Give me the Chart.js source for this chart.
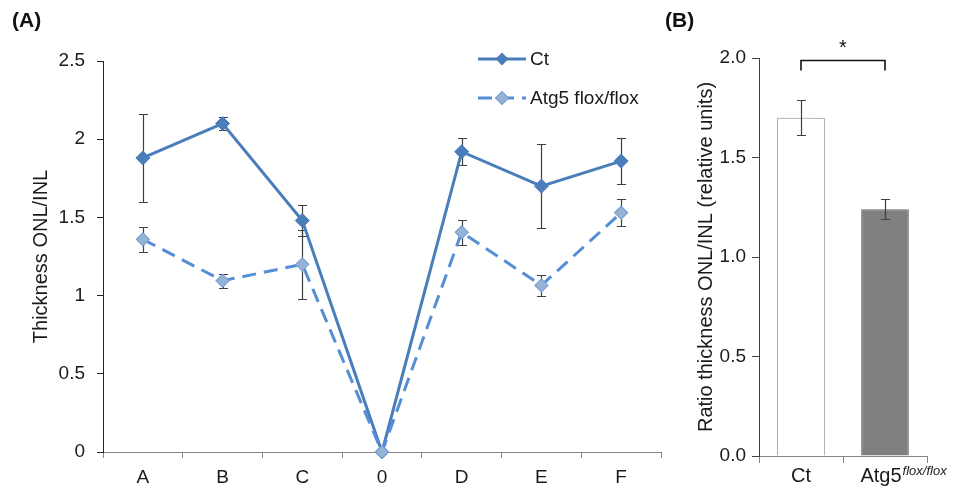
<!DOCTYPE html>
<html>
<head>
<meta charset="utf-8">
<script src="https://cdn.jsdelivr.net/npm/chart.js@4.4.1/dist/chart.umd.min.js"></script>
<style>
  html, body { margin: 0; padding: 0; background: #fff; }
  #wrap { position: relative; width: 957px; height: 491px; font-family: 'Liberation Sans', Arial, sans-serif; }
  .tag { position: absolute; top: 8px; font-weight: bold; font-size: 21px; color: #111; z-index: 2; }
  #chartA { position: absolute; left: 0; top: 0; }
  #chartB { position: absolute; left: 660px; top: 0; }
</style>
</head>
<body>
<div id="wrap">
  <div class="tag" style="left:12px">(A)</div>
  <div class="tag" style="left:665px">(B)</div>
  <canvas id="chartA" width="680" height="491"></canvas>
  <canvas id="chartB" width="297" height="491"></canvas>
</div>
<script>
// panel A: thickness per region
const catsA = ['A', 'B', 'C', '0', 'D', 'E', 'F'];
const ctA = [1.88, 2.10, 1.48, 0, 1.92, 1.70, 1.86];
const ctErrA = [0.28, 0.04, 0.10, 0, 0.085, 0.27, 0.145];
const atgA = [1.36, 1.095, 1.20, 0, 1.405, 1.065, 1.53];
const atgErrA = [0.08, 0.045, 0.22, 0, 0.08, 0.065, 0.085];
const yTicksA = [0, 0.5, 1, 1.5, 2, 2.5];
const seriesNames = ['Ct', 'Atg5 flox/flox'];

// panel B: mean ratio
const catsB = ['Ct', 'Atg5'];
const supB = ['', 'flox/flox'];
const meanB = [1.70, 1.24];
const errB = [0.088, 0.05];
const yTicksB = [0, 0.5, 1.0, 1.5, 2.0];

Chart.defaults.font.family = "'Liberation Sans', Arial, sans-serif";
Chart.defaults.color = '#1a1a1a';

const CT_BLUE = '#4a7ebb';
const ATG_BLUE = '#558ed5';
const ATG_FILL = '#95b3d7';

function drawErrorBars(chart, dsIndex, errs, halfCap) {
    const meta = chart.getDatasetMeta(dsIndex);
    const y = chart.scales.y;
    const values = chart.data.datasets[dsIndex].data;
    const ctx = chart.ctx;
    ctx.save();
    ctx.strokeStyle = '#404040';
    ctx.lineWidth = 1.2;
    meta.data.forEach((el, i) => {
        const e = errs[i];
        if (!e) return;
        const x = Math.round(el.x) + 0.5;
        const top = Math.round(y.getPixelForValue(values[i] + e)) + 0.5;
        const bot = Math.round(y.getPixelForValue(values[i] - e)) + 0.5;
        ctx.beginPath();
        ctx.moveTo(x, top); ctx.lineTo(x, bot);
        ctx.moveTo(x - halfCap, top); ctx.lineTo(x + halfCap, top);
        ctx.moveTo(x - halfCap, bot); ctx.lineTo(x + halfCap, bot);
        ctx.stroke();
    });
    ctx.restore();
}

function diamond(ctx, x, y, r, fill, stroke) {
    ctx.beginPath();
    ctx.moveTo(x, y - r); ctx.lineTo(x + r, y); ctx.lineTo(x, y + r); ctx.lineTo(x - r, y);
    ctx.closePath();
    ctx.fillStyle = fill;
    ctx.fill();
    if (stroke) { ctx.strokeStyle = stroke; ctx.lineWidth = 1.2; ctx.stroke(); }
}

const errorBarsA = {
    id: 'errorBarsA',
    beforeDatasetsDraw(chart) {
        drawErrorBars(chart, 0, ctErrA, 4.5);
        drawErrorBars(chart, 1, atgErrA, 4.5);
    }
};

const legendA = {
    id: 'legendA',
    afterDraw(chart) {
        const ctx = chart.ctx;
        const area = chart.chartArea;
        const x0 = area.left + 375;
        const rows = [area.top - 2, area.top + 37];
        ctx.save();
        chart.data.datasets.forEach((ds, i) => {
            const y = rows[i];
            ctx.beginPath();
            ctx.setLineDash(ds.borderDash || []);
            ctx.strokeStyle = ds.borderColor;
            ctx.lineWidth = 3;
            ctx.moveTo(x0, y); ctx.lineTo(x0 + 48, y);
            ctx.stroke();
            ctx.setLineDash([]);
            diamond(ctx, x0 + 24, y, 6.5, ds.pointBackgroundColor, i ? '#7ba2d4' : null);
            ctx.fillStyle = '#1a1a1a';
            ctx.font = "19px 'Liberation Sans', Arial, sans-serif";
            ctx.textBaseline = 'middle';
            ctx.fillText(seriesNames[i], x0 + 52, y + 1);
        });
        ctx.restore();
    }
};

new Chart(document.getElementById('chartA'), {
    type: 'line',
    data: {
        labels: catsA,
        datasets: [
            {
                label: seriesNames[0],
                data: ctA,
                borderColor: CT_BLUE,
                borderWidth: 3,
                pointStyle: 'rectRot',
                pointRadius: 7,
                pointBackgroundColor: CT_BLUE,
                pointBorderColor: CT_BLUE,
                pointBorderWidth: 1,
                tension: 0,
                clip: false,
                order: 2
            },
            {
                label: seriesNames[1],
                data: atgA,
                borderColor: ATG_BLUE,
                borderWidth: 3,
                borderDash: [14, 8],
                pointStyle: 'rectRot',
                pointRadius: 6.5,
                pointBackgroundColor: ATG_FILL,
                pointBorderColor: '#7ba2d4',
                pointBorderWidth: 1.2,
                tension: 0,
                clip: false,
                order: 1
            }
        ]
    },
    options: {
        responsive: false,
        animation: false,
        layout: { padding: { left: 25, top: 61, right: 19, bottom: 0 } },
        plugins: { legend: { display: false }, tooltip: { enabled: false } },
        scales: {
            x: {
                offset: true,
                grid: { offset: true, drawOnChartArea: false, tickLength: 6, color: '#868686' },
                border: { color: '#868686' },
                ticks: { padding: 8, font: { size: 19 }, color: '#1a1a1a', maxRotation: 0 },
                afterFit: s => { s.height = 39; }
            },
            y: {
                min: 0,
                max: 2.5,
                afterBuildTicks: s => { s.ticks = yTicksA.map(v => ({ value: v })); },
                grid: { drawOnChartArea: false, tickLength: 6, color: '#262626' },
                border: { color: '#262626' },
                ticks: { padding: 12, font: { size: 19 }, color: '#1a1a1a', callback: v => String(v) },
                title: { display: true, text: 'Thickness ONL/INL', font: { size: 20 }, color: '#1a1a1a' },
                afterFit: s => { s.width = 78; }
            }
        }
    },
    plugins: [errorBarsA, legendA]
});

const extrasB = {
    id: 'extrasB',
    afterDatasetsDraw(chart) {
        drawErrorBars(chart, 0, errB, 4.5);
    },
    afterDraw(chart) {
        const ctx = chart.ctx;
        const meta = chart.getDatasetMeta(0);
        const y = chart.scales.y;
        const x1 = meta.data[0].x, x2 = meta.data[1].x;
        const top = Math.round(y.getPixelForValue(y.max)) + 2.5;
        ctx.save();
        // significance bracket
        ctx.strokeStyle = '#111';
        ctx.lineWidth = 1.6;
        ctx.beginPath();
        ctx.moveTo(x1, top + 10); ctx.lineTo(x1, top); ctx.lineTo(x2, top); ctx.lineTo(x2, top + 10);
        ctx.stroke();
        ctx.fillStyle = '#111';
        ctx.font = "20px 'Liberation Sans', Arial, sans-serif";
        ctx.textAlign = 'center';
        ctx.textBaseline = 'middle';
        ctx.fillText('*', (x1 + x2) / 2, top - 12);
        // category labels, second one with a superscript
        const base = chart.chartArea.bottom + 26;
        ctx.textBaseline = 'alphabetic';
        catsB.forEach((name, i) => {
            const cx = supB[i] ? meta.data[i].x - 4 : meta.data[i].x;
            ctx.font = "20px 'Liberation Sans', Arial, sans-serif";
            ctx.textAlign = 'center';
            ctx.fillStyle = '#1a1a1a';
            ctx.fillText(name, cx, base);
            if (supB[i]) {
                const w = ctx.measureText(name).width;
                ctx.font = "italic 13px 'Liberation Sans', Arial, sans-serif";
                ctx.textAlign = 'left';
                ctx.fillText(supB[i], cx + w / 2 + 1, base - 7);
            }
        });
        ctx.restore();
    }
};

new Chart(document.getElementById('chartB'), {
    type: 'bar',
    data: {
        labels: catsB,
        datasets: [{
            data: meanB,
            backgroundColor: ['#ffffff', '#7f7f7f'],
            borderColor: ['#8c8c8c', '#606060'],
            borderWidth: 1,
            barPercentage: 0.567,
            categoryPercentage: 1
        }]
    },
    options: {
        responsive: false,
        animation: false,
        layout: { padding: { left: 30, top: 58, right: 30, bottom: 0 } },
        plugins: { legend: { display: false }, tooltip: { enabled: false } },
        scales: {
            x: {
                grid: { offset: true, drawOnChartArea: false, tickLength: 7, color: '#868686' },
                border: { color: '#868686' },
                ticks: { display: false },
                afterFit: s => { s.height = 35; }
            },
            y: {
                min: 0,
                max: 2,
                afterBuildTicks: s => { s.ticks = yTicksB.map(v => ({ value: v })); },
                grid: { drawOnChartArea: false, tickLength: 7, color: '#404040' },
                border: { color: '#404040' },
                ticks: { padding: 6, font: { size: 19 }, color: '#1a1a1a', callback: v => v.toFixed(1) },
                title: { display: true, text: 'Ratio thickness ONL/INL (relative units)', font: { size: 20 }, color: '#1a1a1a' },
                afterFit: s => { s.width = 69; }
            }
        }
    },
    plugins: [extrasB]
});
</script>
</body>
</html>
